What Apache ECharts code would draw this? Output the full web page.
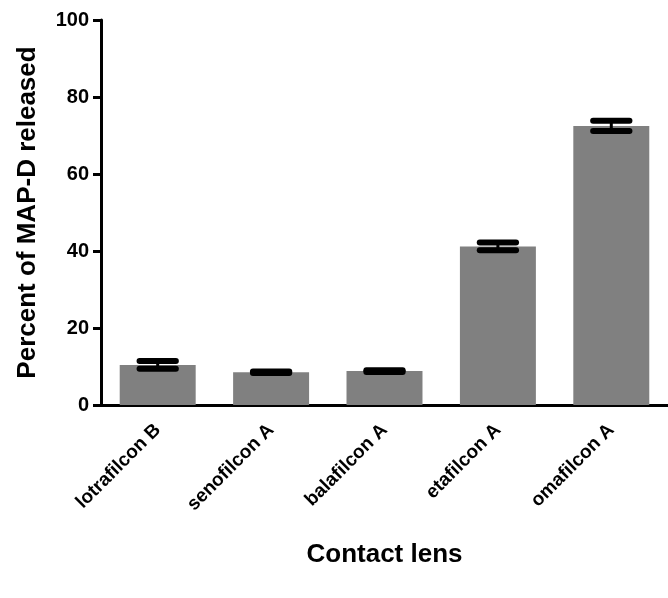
<!DOCTYPE html>
<html>
<head>
<meta charset="utf-8">
<script src="https://cdn.jsdelivr.net/npm/echarts@6/dist/echarts.min.js"></script>
<style>html,body{margin:0;padding:0;background:#fff}#c{width:668px;height:598px}</style>
</head>
<body>
<div id="c"></div>
<script>
var categories = ['lotrafilcon B', 'senofilcon A', 'balafilcon A', 'etafilcon A', 'omafilcon A'];
var means = [10.4, 8.5, 8.8, 41.2, 72.5];
var errors = [1.0, 0.2, 0.2, 1.0, 1.3];
var yTicks = [0, 20, 40, 60, 80, 100];

var font = '"Liberation Sans", Arial, Helvetica, sans-serif';
var errData = categories.map(function (c, i) { return [i, means[i] - errors[i], means[i] + errors[i]]; });

var chart = echarts.init(document.getElementById('c'));
chart.setOption({
  animation: false,
  backgroundColor: '#fff',
  grid: { left: 101, top: 20, width: 575, height: 385, containLabel: false },
  xAxis: {
    type: 'category',
    data: categories,
    name: 'Contact lens',
    nameLocation: 'middle',
    nameGap: 137,
    nameTextStyle: { fontFamily: font, fontWeight: 'bold', fontSize: 26, color: '#000' },
    axisLine: { lineStyle: { color: '#000', width: 3 } },
    axisTick: { alignWithLabel: true, length: 10, lineStyle: { color: '#000', width: 3 } },
    axisLabel: { rotate: 45, margin: 22, fontFamily: font, fontWeight: 'bold', fontSize: 19, color: '#000' },
    splitLine: { show: false }
  },
  yAxis: {
    type: 'value',
    min: yTicks[0],
    max: yTicks[yTicks.length - 1],
    interval: 20,
    name: 'Percent of MAP-D released',
    nameLocation: 'middle',
    nameGap: 60,
    nameRotate: 90,
    nameTextStyle: { fontFamily: font, fontWeight: 'bold', fontSize: 26, color: '#000' },
    axisLine: { show: true, lineStyle: { color: '#000', width: 3 } },
    axisTick: { show: true, length: 8, lineStyle: { color: '#000', width: 3 } },
    axisLabel: { margin: 12, fontFamily: font, fontWeight: 'bold', fontSize: 20, color: '#000' },
    splitLine: { show: false }
  },
  series: [
    {
      type: 'bar',
      data: means,
      barCategoryGap: '33%',
      itemStyle: { color: '#808080' },
      z: 2
    },
    {
      type: 'custom',
      data: errData,
      z: 5,
      renderItem: function (params, api) {
        var x = api.value(0);
        var lo = api.coord([x, api.value(1)]);
        var hi = api.coord([x, api.value(2)]);
        var half = api.size([1, 0])[0] * 0.16;
        return {
          type: 'group',
          children: [
            { type: 'line', shape: { x1: lo[0], y1: lo[1], x2: hi[0], y2: hi[1] }, style: { stroke: '#000', lineWidth: 3 } },
            { type: 'line', shape: { x1: lo[0] - half, y1: lo[1], x2: lo[0] + half, y2: lo[1] }, style: { stroke: '#000', lineWidth: 6, lineCap: 'round' } },
            { type: 'line', shape: { x1: hi[0] - half, y1: hi[1], x2: hi[0] + half, y2: hi[1] }, style: { stroke: '#000', lineWidth: 6, lineCap: 'round' } }
          ]
        };
      }
    }
  ]
});
</script>
</body>
</html>
